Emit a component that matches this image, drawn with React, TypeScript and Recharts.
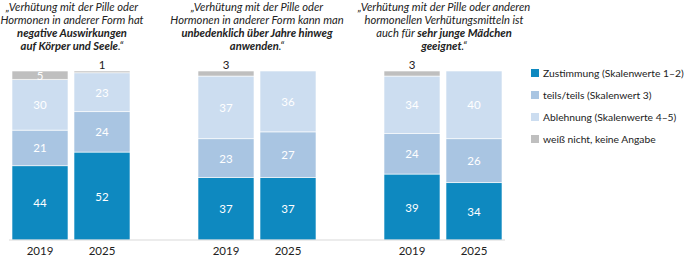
import React from "react";
import { BarChart, Bar, XAxis, YAxis, LabelList } from "recharts";

const slots = ["a", "b", "gap1", "c", "d", "gap2", "e", "f"];
const years = ["2019", "2025", "", "2019", "2025", "", "2019", "2025"];
const zustimmung = [44, 52, null, 37, 37, null, 39, 34];
const teils = [21, 24, null, 23, 27, null, 24, 26];
const ablehnung = [30, 23, null, 37, 36, null, 34, 40];
const weissNicht = [5, 1, null, 3, 1, null, 3, 1];

const seriesNames = [
  "Zustimmung (Skalenwerte 1–2)",
  "teils/teils (Skalenwert 3)",
  "Ablehnung (Skalenwerte 4–5)",
  "weiß nicht, keine Angabe",
];
const colors = ["#0E89C0", "#A9C5E2", "#CCDDF0", "#BFBFBF"];

const data = slots.map((s, i) => ({
  slot: s,
  year: years[i],
  zustimmung: zustimmung[i],
  teils: teils[i],
  ablehnung: ablehnung[i],
  weissNicht: weissNicht[i],
}));

const FONT = "Lato, 'Open Sans', sans-serif";

const titles = [
  {
    cx: 72,
    lines: [
      <>„Verhütung mit der Pille oder</>,
      <>Hormonen in anderer Form hat</>,
      <b>negative Auswirkungen</b>,
      <><b>auf Körper und Seele</b>.“</>,
    ],
  },
  {
    cx: 257,
    lines: [
      <>„Verhütung mit der Pille oder</>,
      <>Hormonen in anderer Form kann man</>,
      <b>unbedenklich über Jahre hinweg</b>,
      <><b>anwenden</b>.“</>,
    ],
  },
  {
    cx: 444,
    lines: [
      <>„Verhütung mit der Pille oder anderen</>,
      <>hormonellen Verhütungsmitteln ist</>,
      <>auch für <b>sehr junge Mädchen</b></>,
      <><b>geeignet</b>.“</>,
    ],
  },
];

const inside = (props: any) => {
  const { x, y, width, height, value } = props;
  if (value == null) return null;
  return (
    <text
      x={x + width / 2}
      y={y + height / 2}
      textAnchor="middle"
      dominantBaseline="central"
      fill="#fff"
      fontSize={11.5}
      fontFamily={FONT}
    >
      {value}
    </text>
  );
};

const grayLabel = (props: any) => {
  const { x, y, width, value } = props;
  if (value == null) return null;
  if (value >= 5) return inside(props);
  return (
    <text
      x={x + width / 2}
      y={y - 7}
      textAnchor="middle"
      dominantBaseline="central"
      fill="#222"
      fontSize={11.5}
      fontFamily={FONT}
    >
      {value}
    </text>
  );
};

const YearTick = (props: any) => {
  const { x, y, payload } = props;
  const label = years[slots.indexOf(payload.value)];
  return (
    <text
      x={x}
      y={y + 2}
      textAnchor="middle"
      dominantBaseline="central"
      fill="#222"
      fontSize={11.5}
      fontFamily={FONT}
    >
      {label}
    </text>
  );
};

export default function App() {
  const keys = ["zustimmung", "teils", "ablehnung", "weissNicht"];
  return (
    <div
      style={{
        position: "absolute",
        left: 0,
        top: 0,
        width: 685,
        height: 259,
        background: "#fff",
        fontFamily: FONT,
      }}
    >
      <BarChart
        width={685}
        height={259}
        data={data}
        margin={{ top: 71, right: 180, bottom: 0, left: 9 }}
        barCategoryGap={3}
      >
        <XAxis
          dataKey="slot"
          tick={<YearTick />}
          tickLine={false}
          axisLine={{ stroke: "#D9D9D9" }}
          height={19}
          interval={0}
        />
        <YAxis hide domain={[0, 100]} allowDataOverflow />
        {keys.map((k, i) => (
          <Bar
            key={k}
            dataKey={k}
            stackId="s"
            fill={colors[i]}
            stroke="#fff"
            strokeWidth={0.6}
            isAnimationActive={false}
          >
            <LabelList
              dataKey={k}
              content={k === "weissNicht" ? grayLabel : inside}
            />
          </Bar>
        ))}
      </BarChart>

      {titles.map((t, i) => (
        <div
          key={i}
          style={{
            position: "absolute",
            left: t.cx - 110,
            top: 0,
            width: 220,
            textAlign: "center",
            fontStyle: "italic",
            fontSize: 11.2,
            lineHeight: "13px",
            color: "#222",
            whiteSpace: "nowrap",
          }}
        >
          {t.lines.map((l, j) => (
            <div key={j}>{l}</div>
          ))}
        </div>
      ))}

      <div style={{ position: "absolute", left: 531, top: 62 }}>
        {seriesNames.map((n, i) => (
          <div
            key={n}
            style={{
              display: "flex",
              alignItems: "center",
              height: 22,
              fontSize: 10.3,
              color: "#222",
              whiteSpace: "nowrap",
            }}
          >
            <span
              style={{
                width: 8,
                height: 8,
                background: colors[i],
                marginRight: 4,
                display: "inline-block",
                flexShrink: 0,
              }}
            />
            {n}
          </div>
        ))}
      </div>
    </div>
  );
}
